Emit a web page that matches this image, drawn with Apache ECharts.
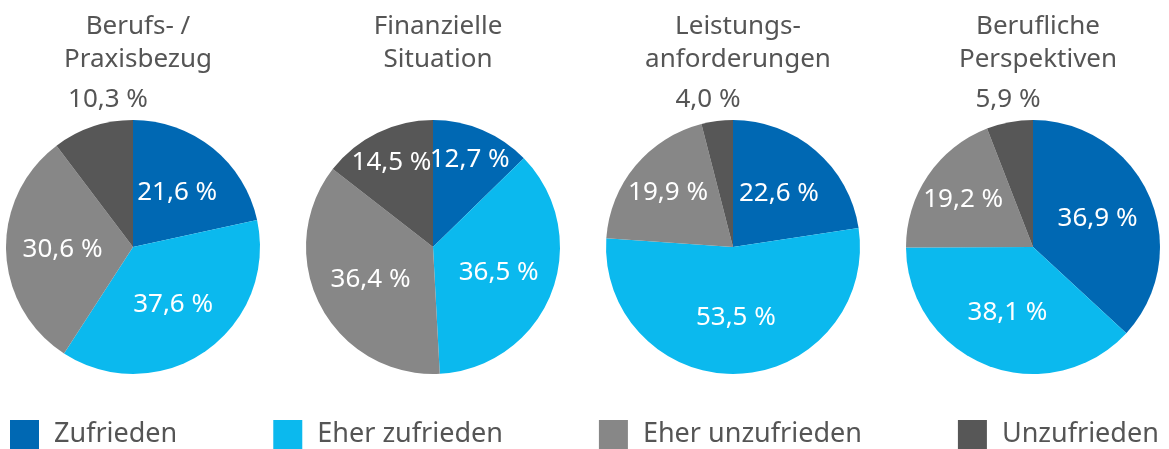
<!DOCTYPE html>
<html>
<head>
<meta charset="utf-8">
<script src="https://cdn.jsdelivr.net/npm/echarts@6/dist/echarts.min.js"></script>
<style>
  html, body { margin: 0; padding: 0; background: #fff; }
  #chart { width: 1169px; height: 449px; }
</style>
</head>
<body>
<div id="chart"></div>
<script>
// categories (legend order)
const categories = ['Zufrieden', 'Eher zufrieden', 'Eher unzufrieden', 'Unzufrieden']
const pieTitles = ['Berufs- /\nPraxisbezug', 'Finanzielle\nSituation', 'Leistungs-\nanforderungen', 'Berufliche\nPerspektiven']

// percentages per pie, same order as categories
const praxis = [21.6, 37.6, 30.6, 10.3]
const finanzen = [12.7, 36.5, 36.4, 14.5]
const leistung = [22.6, 53.5, 19.9, 4.0]
const perspektive = [36.9, 38.1, 19.2, 5.9]
const pies = [praxis, finanzen, leistung, perspektive]

const colorPalette = ['#0068b3', '#0bb9ee', '#878787', '#575757']
const textGray = '#555555'
const font = '"Noto Sans", "Open Sans", sans-serif'

const centersX = [133, 433, 733, 1033]
const centerY = 247
const radius = 127

const fmt = v => v.toFixed(1).replace('.', ',') + ' %'

const chart = echarts.init(document.getElementById('chart'), null, { renderer: 'canvas' })

const series = pies.map((values, i) => {
  const cx = centersX[i]
  return {
    type: 'pie',
    center: [cx, centerY],
    radius: [0, radius],
    startAngle: 90,
    clockwise: true,
    silent: true,
    avoidLabelOverlap: false,
    itemStyle: { borderWidth: 0 },
    label: {
      show: true,
      position: 'inside',
      color: '#fff',
      fontFamily: font,
      fontSize: 26,
      formatter: p => fmt(p.value)
    },
    labelLine: { show: false },
    // push labels outwards, narrow slices more; tiny slices go above the pie
    labelLayout: (params) => {
      const v = values[params.dataIndex]
      const r = params.labelRect
      const lx = r.x + r.width / 2
      const ly = r.y + r.height / 2
      if (v < 11) {
        return { x: cx - 25, y: centerY - radius - 20 }
      }
      const k = v < 16 ? 1.42 : (v < 21 ? 1.27 : 1.06)
      return { x: cx + (lx - cx) * k, y: centerY + (ly - centerY) * k }
    },
    data: values.map((v, k) => ({
      name: categories[k],
      value: v,
      label: v < 11 ? { color: textGray } : undefined
    }))
  }
})

const titles = pieTitles.map((t, i) => ({
  text: t,
  left: centersX[i],
  top: 5,
  textAlign: 'center',
  textStyle: {
    fontFamily: font,
    fontSize: 26,
    fontWeight: 'normal',
    color: textGray,
    lineHeight: 33
  }
}))

chart.setOption({
  animation: false,
  color: colorPalette,
  title: titles,
  legend: {
    data: categories,
    left: 10,
    bottom: 0,
    itemWidth: 29,
    itemHeight: 29,
    itemGap: 96,
    icon: 'rect',
    padding: 0,
    selectedMode: false,
    textStyle: {
      fontFamily: font,
      fontSize: 27,
      color: textGray,
      padding: [0, 0, 0, 10]
    }
  },
  series: series
})
</script>
</body>
</html>
